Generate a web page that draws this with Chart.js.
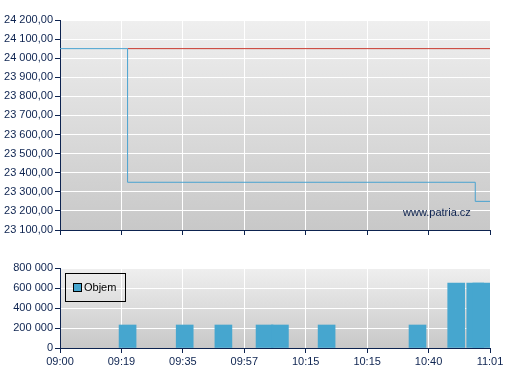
<!DOCTYPE html>
<html>
<head>
<meta charset="utf-8">
<script src="https://cdn.jsdelivr.net/npm/chart.js@4.4.1/dist/chart.umd.min.js"></script>
<style>
  body { margin: 0; background: #fff; width: 507px; height: 380px; overflow: hidden; position: relative; font-family: Arial, "Liberation Sans", sans-serif; }
  #top { position: absolute; left: 0; top: 0; width: 507px; height: 240px; }
  #bottom { position: absolute; left: 0; top: 258px; width: 507px; height: 122px; }
  #mark { position: absolute; left: 403px; top: 206px; font-size: 11px; color: #0d2350; }
  #legend { position: absolute; left: 65px; top: 273px; width: 59px; height: 27px; border: 1px solid #000; font-size: 11px; color: #000; }
  #legend span.box { position: absolute; left: 7px; top: 9px; width: 7px; height: 7px; background: #46a6cf; border: 1px solid #000; }
  #legend span.txt { position: absolute; left: 18px; top: 7px; }
</style>
</head>
<body>
<div id="top"><canvas id="priceChart"></canvas></div>
<div id="mark">www.patria.cz</div>
<div id="bottom"><canvas id="volumeChart"></canvas></div>
<div id="legend"><span class="box"></span><span class="txt">Objem</span></div>
<script>
const timeLabels = ["09:00", "09:19", "09:35", "09:57", "10:15", "10:15", "10:40", "11:01"];

// cena (schodovita cara)
const priceX = [0, 1.10, 6.76, 7];
const priceY = [24050, 23350, 23250, 23250];
// referencni uroven (cervena)
const refX = [1.10, 7];
const refY = [24050, 24050];

// objem
const volumeX = [1.10, 2.03, 2.66, 3.33, 3.58, 4.34, 5.82, 6.45, 6.76, 6.86];
const volumeY = [230000, 230000, 230000, 230000, 230000, 230000, 230000, 650000, 650000, 650000];

const navy = "#0d2350";

Chart.defaults.font.family = "Arial, 'Liberation Sans', sans-serif";
Chart.defaults.font.size = 11;
Chart.defaults.color = navy;

const pozadi = {
  id: "pozadi",
  beforeDraw(chart) {
    const { ctx, chartArea: a } = chart;
    const g = ctx.createLinearGradient(0, a.top, 0, a.bottom);
    g.addColorStop(0, "#efefef");
    g.addColorStop(1, "#c8c8c8");
    ctx.save();
    ctx.fillStyle = g;
    ctx.fillRect(a.left, a.top, a.right - a.left, a.bottom - a.top);
    ctx.restore();
  }
};

function cislo(v, des) {
  const s = v.toFixed(des).split(".");
  const cele = s[0].replace(/\B(?=(\d{3})+(?!\d))/g, " ");
  return des ? cele + "," + s[1] : cele;
}

function osaX(showLabels, height) {
  return {
    type: "linear",
    min: 0,
    max: 7,
    offset: false,
    ticks: {
      stepSize: 1,
      display: showLabels,
      padding: 2,
      maxRotation: 0,
      callback: (v) => timeLabels[v]
    },
    grid: { offset: false, color: "#ffffff", lineWidth: 1, tickColor: navy, tickLength: 5 },
    border: { color: navy, width: 1 },
    afterFit: (s) => { s.height = height; }
  };
}

function osaY(min, max, step, fmt) {
  return {
    min, max,
    ticks: { stepSize: step, padding: 2, callback: fmt },
    grid: { color: "#ffffff", lineWidth: 1, tickColor: navy, tickLength: 5 },
    border: { color: navy, width: 1 },
    afterFit: (s) => { s.width = 60; }
  };
}

new Chart(document.getElementById("priceChart"), {
  type: "line",
  data: {
    datasets: [
      {
        label: "Cena",
        data: priceX.map((x, i) => ({ x, y: priceY[i] })),
        borderColor: "#4aa3d0",
        borderWidth: 1,
        pointRadius: 0,
        stepped: true,
        fill: false
      },
      {
        label: "Reference",
        data: refX.map((x, i) => ({ x, y: refY[i] })),
        borderColor: "#c8382e",
        borderWidth: 1,
        pointRadius: 0,
        fill: false
      }
    ]
  },
  options: {
    responsive: true,
    maintainAspectRatio: false,
    animation: false,
    events: [],
    layout: { padding: { top: 20, right: 17, left: 0, bottom: 0 } },
    plugins: { legend: { display: false }, tooltip: { enabled: false } },
    scales: {
      x: osaX(false, 10),
      y: osaY(23100, 24200, 100, (v) => cislo(v, 2))
    }
  },
  plugins: [pozadi]
});

new Chart(document.getElementById("volumeChart"), {
  type: "bar",
  data: {
    datasets: [
      {
        label: "Objem",
        data: volumeX.map((x, i) => ({ x, y: volumeY[i] })),
        backgroundColor: "#46a6cf",
        borderWidth: 0,
        barThickness: 17
      }
    ]
  },
  options: {
    responsive: true,
    maintainAspectRatio: false,
    animation: false,
    events: [],
    layout: { padding: { top: 10, right: 17, left: 0, bottom: 0 } },
    plugins: { legend: { display: false }, tooltip: { enabled: false } },
    scales: {
      x: osaX(true, 32),
      y: osaY(0, 800000, 200000, (v) => cislo(v, 0))
    }
  },
  plugins: [pozadi]
});
</script>
</body>
</html>
